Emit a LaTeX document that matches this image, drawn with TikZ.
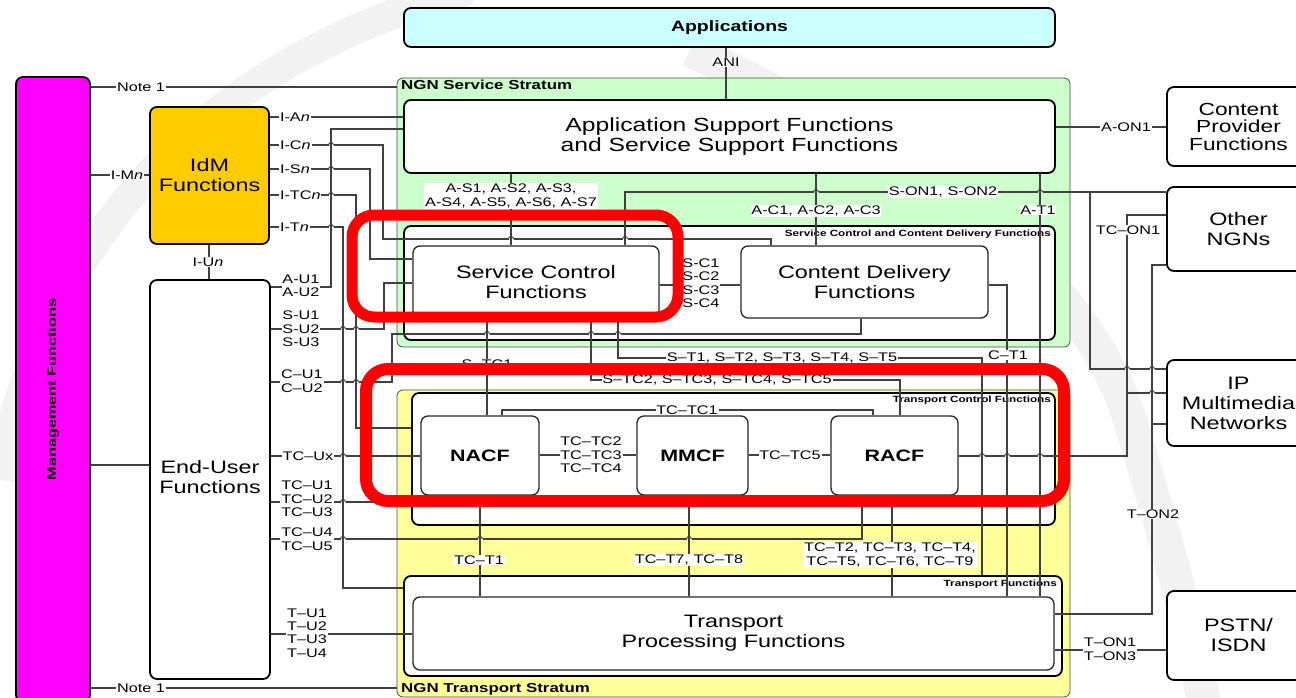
\documentclass[tikz,border=0pt]{standalone}
\usepackage{fontspec}
\setmainfont{Liberation Sans}[FakeStretch=1.3]
\setsansfont{Liberation Sans}[FakeStretch=1.3]
\definecolor{appcyan}{HTML}{CCFFFF}
\definecolor{svcgreen}{HTML}{CCFFCC}
\definecolor{trnyellow}{HTML}{FFFF99}
\definecolor{idmorange}{HTML}{FFCC00}
\definecolor{mgmtmag}{HTML}{FF00FF}
\begin{document}
\begin{tikzpicture}[x=1pt,y=-1pt,
  fbox/.style={draw=black, line width=1.8pt, rounded corners=7pt, fill=white, inner sep=0pt, align=center, font=\fontsize{18}{20}\selectfont},
  ibox/.style={draw=black!85, line width=1.3pt, rounded corners=7pt, fill=white, inner sep=0pt, align=center, font=\fontsize{18}{20}\selectfont},
  stratum/.style={draw=black!70, line width=0.8pt, rounded corners=6pt, inner sep=0pt},
  conn/.style={draw=black!75, line width=1.1pt},
  lbl/.style={fill=white, inner sep=0.8pt, font=\fontsize{12.5}{13.4}\selectfont, align=center},
  stratlbl/.style={inner sep=0pt, font=\bfseries\fontsize{13}{13}\selectfont},
  grplbl/.style={inner sep=0pt, font=\bfseries\fontsize{9}{9}\selectfont},
  hilite/.style={draw=red, rounded corners=22pt}
]
\useasboundingbox (0,0) rectangle (1296,698);
\clip (0,0) rectangle (1296,698);
\fill[white] (0,0) rectangle (1296,698);
% faint watermark
\draw[black!5, line width=30pt] (0,480) .. controls (40,250) and (200,60) .. (470,-10);
\draw[black!5, line width=34pt] (690,50) .. controls (900,150) and (1080,260) .. (1130,420) .. controls (1160,520) and (1190,620) .. (1205,710);

% strata
\node[stratum, fill=svcgreen, minimum width=673pt, minimum height=269pt] (svc) at (733.5,212.5) {};
\node[stratum, fill=trnyellow, minimum width=673pt, minimum height=307pt] (trn) at (733.5,543.5) {};

% boxes
\node[fbox, fill=appcyan, minimum width=651pt, minimum height=39pt, font=\bfseries\fontsize{15}{17}\selectfont] (app) at (729.5,27.5) {Applications};
\node[fbox, minimum width=651pt, minimum height=73pt, font=\fontsize{19}{19.5}\selectfont] (asf) at (729.5,136.5) {Application Support Functions\\and Service Support Functions};
\node[fbox, minimum width=651pt, minimum height=114pt] (sccd) at (729.5,283) {};
\node[ibox, minimum width=246pt, minimum height=72pt] (scf) at (536,282) {Service Control\\Functions};
\node[ibox, minimum width=247pt, minimum height=72pt] (cdf) at (864.5,282) {Content Delivery\\Functions};
\node[fbox, minimum width=643pt, minimum height=132pt] (tcf) at (733.5,459) {};
\node[ibox, minimum width=118pt, minimum height=79pt, font=\bfseries\fontsize{16.5}{18}\selectfont] (nacf) at (480,455.5) {NACF};
\node[ibox, minimum width=111pt, minimum height=79pt, font=\bfseries\fontsize{16.5}{18}\selectfont] (mmcf) at (692.5,455.5) {MMCF};
\node[ibox, minimum width=127pt, minimum height=79pt, font=\bfseries\fontsize{16.5}{18}\selectfont] (racf) at (894.5,455.5) {RACF};
\node[fbox, minimum width=658pt, minimum height=100pt] (tf) at (733,626) {};
\node[ibox, minimum width=641pt, minimum height=73pt] (tpf) at (733.5,633.5) {Transport\\Processing Functions};

\node[fbox, fill=mgmtmag, minimum width=74pt, minimum height=625pt] (mgmt) at (53,389.5) {};
\node[rotate=90, inner sep=0pt, font=\bfseries\fontsize{12.5}{12.5}\selectfont] (mgmttxt) at (mgmt.center) {Management Functions};
\node[fbox, fill=idmorange, minimum width=119pt, minimum height=137pt] (idm) at (209.5,175.5) {IdM\\Functions};
\node[fbox, minimum width=120pt, minimum height=399pt] (euf) at (210,479.5) {};
\node[inner sep=0pt, align=center, font=\fontsize{18}{20}\selectfont] (euftxt) at (210,477) {End-User\\Functions};

\node[fbox, minimum width=143pt, minimum height=79pt, font=\fontsize{17.5}{17.5}\selectfont] (cpf) at (1238.5,126.5) {Content\\Provider\\Functions};
\node[fbox, minimum width=143pt, minimum height=84pt] (oth) at (1238.5,229) {Other\\NGNs};
\node[fbox, minimum width=143pt, minimum height=86pt] (ipm) at (1238.5,403) {IP\\Multimedia\\Networks};
\node[fbox, minimum width=143pt, minimum height=89pt] (pstn) at (1238.5,635.5) {PSTN/\\ISDN};

% group labels
\node[stratlbl, anchor=base west] (svclbl) at (401,90) {NGN Service Stratum};
\node[stratlbl, anchor=base west] (trnlbl) at (401,692) {NGN Transport Stratum};
\node[grplbl, anchor=base east] (sccdlbl) at (1051,236) {Service Control and Content Delivery Functions};
\node[grplbl, anchor=base east] (tcflbl) at (1051,402) {Transport Control Functions};
\node[grplbl, anchor=base east] (tflbl) at (1057,586) {Transport Functions};

% connectors
\draw[conn] (726,0 |- app.south) -- (726,0 |- asf.north);
\draw[conn] (mgmt.east |- 0,87) -- (svc.west |- 0,87);
\draw[conn] (mgmt.east |- 0,688) -- (trn.west |- 0,688);
\draw[conn] (mgmt.east |- 0,175) -- (idm.west |- 0,175);
\draw[conn] (mgmt.east |- 0,465) -- (euf.west |- 0,465);
\draw[conn] (209,0 |- idm.south) -- (209,0 |- euf.north);
\draw[conn] (idm.east |- 0,117) -- (asf.west |- 0,117);
\draw[conn] (euf.east |- 0,287) -- (331,287) -- (331,129) -- (asf.west |- 0,129);
\draw[conn] (idm.east |- 0,145) -- (383,145) -- (383,239) -- (771,239) -- (771,0 |- cdf.north);
\draw[conn] (idm.east |- 0,169) -- (370,169) -- (370,259) -- (scf.west |- 0,259);
\draw[conn] (idm.east |- 0,195) -- (356,195) -- (356,428) -- (tcf.west |- 0,428);
\draw[conn] (idm.east |- 0,227) -- (343,227) -- (343,588) -- (tf.west |- 0,588);
\draw[conn] (euf.east |- 0,329) -- (384,329) -- (384,283) -- (scf.west |- 0,283);
\draw[conn] (euf.east |- 0,382) -- (392,382) -- (392,334) -- (861,334) -- (861,0 |- cdf.south);
\draw[conn] (euf.east |- 0,456) -- (nacf.west |- 0,456);
\draw[conn] (euf.east |- 0,502) -- (tcf.west |- 0,502);
\draw[conn] (euf.east |- 0,539) -- (862,539) -- (862,0 |- racf.south);
\draw[conn] (euf.east |- 0,634) -- (tpf.west |- 0,634);
\draw[conn] (511,0 |- asf.south) -- (511,0 |- scf.north);
\draw[conn] (625,0 |- scf.north) -- (625,192) -- (oth.west |- 0,192);
\draw[conn] (1090,192) -- (1090,369) -- (ipm.west |- 0,369);
\draw[conn] (816,0 |- asf.south) -- (816,0 |- cdf.north);
\draw[conn] (1040,0 |- asf.south) -- (1040,0 |- tpf.north);
\draw[conn] (asf.east |- 0,127) -- (cpf.west |- 0,127);
\draw[conn] (scf.east |- 0,285) -- (cdf.west |- 0,285);
\draw[conn] (cdf.east |- 0,285) -- (1007,285) -- (1007,0 |- tpf.north);
\draw[conn] (487,0 |- scf.south) -- (487,0 |- nacf.north);
\draw[conn] (591,0 |- scf.south) -- (591,380) -- (900,380) -- (900,0 |- racf.north);
\draw[conn] (618,0 |- scf.south) -- (618,358) -- (982,358) -- (982,0 |- tf.north);
\draw[conn] (502,0 |- nacf.north) -- (502,410) -- (873,410) -- (873,0 |- racf.north);
\draw[conn] (nacf.east |- 0,455) -- (mmcf.west |- 0,455);
\draw[conn] (mmcf.east |- 0,455) -- (racf.west |- 0,455);
\draw[conn] (racf.east |- 0,456) -- (1127,456) -- (1127,215) -- (oth.west |- 0,215);
\draw[conn] (1127,393) -- (ipm.west |- 0,393);
\draw[conn] (oth.west |- 0,265) -- (1152,265) -- (1152,614) -- (tpf.east |- 0,614);
\draw[conn] (1152,424) -- (ipm.west |- 0,424);
\draw[conn] (tpf.east |- 0,650) -- (pstn.west |- 0,650);
\draw[conn] (480,0 |- nacf.south) -- (480,0 |- tpf.north);
\draw[conn] (689,0 |- mmcf.south) -- (689,0 |- tpf.north);
\draw[conn] (892,0 |- racf.south) -- (892,0 |- tpf.north);

% line hops (horizontal line jumps over vertical one)
\foreach \hx/\hy/\hc in {331/145/white,331/169/white,331/195/white,331/227/white,343/329/white,356/329/white,343/382/white,356/382/white,343/456/white,343/502/white,343/539/white,480/539/trnyellow,689/539/trnyellow,511/239/white,625/239/white,816/192/svcgreen,1040/192/svcgreen,487/334/white,591/334/white,618/334/white,982/456/white,1007/456/white,1040/456/white,1127/369/white,1152/369/white,1152/393/white}
{
  \draw[\hc, line width=1.8pt] (\hx-2.5,\hy) -- (\hx+2.5,\hy);
  \draw[conn] (\hx,\hy-3) -- (\hx,\hy+3);
  \draw[conn, line width=0.9pt] (\hx-2.5,\hy) arc[start angle=180, end angle=0, radius=2.5pt];
}

% labels
\node[lbl] (note1a) at (141,87) {Note 1};
\node[lbl] (note1b) at (141,688) {Note 1};
\node[lbl] (imn) at (127,175) {I-M\textit{n}};
\node[lbl] (iun) at (208,262) {I-U\textit{n}};
\node[lbl, anchor=west] (ian) at (279,117) {I-A\textit{n}};
\node[lbl, anchor=west] (icn) at (279,145) {I-C\textit{n}};
\node[lbl, anchor=west] (isn) at (279,169) {I-S\textit{n}};
\node[lbl, anchor=west] (itcn) at (279,195) {I-TC\textit{n}};
\node[lbl, anchor=west] (itn) at (279,227) {I-T\textit{n}};
\node[lbl] (au) at (301,286) {A-U1\\A-U2};
\node[lbl] (su) at (301,329) {S-U1\\S-U2\\S-U3};
\node[lbl] (cu) at (302,381) {C–U1\\C–U2};
\node[lbl] (tcux) at (308,456) {TC–Ux};
\node[lbl] (tcu1) at (307,499) {TC–U1\\TC–U2\\TC–U3};
\node[lbl] (tcu4) at (307,539) {TC–U4\\TC–U5};
\node[lbl] (tu) at (307,633) {T–U1\\T–U2\\T–U3\\T–U4};
\node[lbl] (ani) at (726,62) {ANI};
\node[lbl] (as) at (511,196) {A-S1, A-S2, A-S3,\\A-S4, A-S5, A-S6, A-S7};
\node[lbl] (ac) at (816,211) {A-C1, A-C2, A-C3};
\node[lbl] (son) at (943,192) {S-ON1, S-ON2};
\node[lbl] (at1) at (1038,210) {A-T1};
\node[lbl] (aon) at (1126,127) {A-ON1};
\node[lbl] (tcon) at (1128,230) {TC–ON1};
\node[lbl] (sc) at (701,283) {S-C1\\S-C2\\S-C3\\S-C4};
\node[lbl] (st) at (782,358) {S–T1, S–T2, S–T3, S–T4, S–T5};
\node[lbl] (stc) at (717,380) {S–TC2, S–TC3, S–TC4, S–TC5};
\node[lbl] (stc1) at (487,364) {S–TC1};
\node[lbl] (ct1) at (1008,355) {C–T1};
\node[lbl] (tctc1) at (687,410) {TC–TC1};
\node[lbl] (tctc2) at (591,455) {TC–TC2\\TC–TC3\\TC–TC4};
\node[lbl] (tctc5) at (790,455) {TC–TC5};
\node[lbl] (tct1) at (479,560) {TC–T1};
\node[lbl] (tct7) at (689,560) {TC–T7, TC–T8};
\node[lbl] (tct2) at (890,555) {TC–T2, TC–T3, TC–T4,\\TC–T5, TC–T6, TC–T9};
\node[lbl] (ton2) at (1153,514) {T–ON2};
\node[lbl] (ton1) at (1110,649) {T–ON1\\T–ON3};

% red highlight frames
\draw[hilite, line width=11pt] (352,215) rectangle (678,317);
\draw[hilite, line width=12pt] (366,369) rectangle (1064,501);
\end{tikzpicture}
\end{document}
